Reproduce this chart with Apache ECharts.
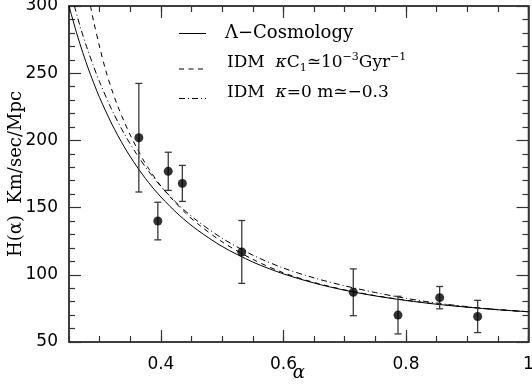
<!DOCTYPE html>
<html>
<head>
<meta charset="utf-8">
<script src="https://cdn.jsdelivr.net/npm/echarts@6/dist/echarts.min.js"></script>
<style>
  html, body { margin: 0; padding: 0; background: #fff; }
  #chart { width: 532px; height: 384px; }
</style>
</head>
<body>
<div id="chart"></div>
<script>
// measured H(alpha) points with errors
const pointAlpha = [0.364, 0.412, 0.435, 0.395, 0.532, 0.714, 0.787, 0.855, 0.917]
const pointH = [202, 177, 168, 140, 117, 87, 70, 83, 69]
const pointErr = [40.4, 14.2, 13.4, 14, 23.4, 17.4, 14, 8.3, 12]

// Lambda cosmology curve (solid)
const lcdmAlpha = [0.25, 0.26, 0.27, 0.28, 0.29, 0.30, 0.32, 0.34, 0.36, 0.38, 0.40, 0.43, 0.46, 0.50, 0.55, 0.60, 0.65, 0.70, 0.75, 0.80, 0.85, 0.90, 0.95, 1.00]
const lcdmH = [300, 283.7, 268.8, 255.3, 243.1, 231.8, 212.1, 195.3, 181.0, 168.6, 157.9, 144.3, 133.2, 121.1, 109.5, 100.7, 93.9, 88.5, 84.3, 80.9, 78.1, 75.9, 74.0, 72.5]

// IDM kappa*C1 ~ 1e-3 Gyr^-1 (dashed)
const idmKAlpha = [0.285, 0.29, 0.30, 0.31, 0.32, 0.33, 0.34, 0.35, 0.36, 0.37, 0.38, 0.40, 0.42, 0.44, 0.46, 0.50, 0.55, 0.60, 0.65, 0.70, 0.75, 0.80, 0.85, 0.90, 0.95, 1.00]
const idmKH = [300, 289, 269.5, 252, 237.5, 225, 214, 204, 195, 186.5, 179, 166, 155.5, 146, 138, 124.5, 111.5, 101.5, 94.3, 88.8, 84.5, 81.1, 78.3, 76.0, 74.1, 72.5]

// IDM kappa=0, m ~ -0.3 (dash-dot)
const idmMAlpha = [0.259, 0.26, 0.27, 0.28, 0.29, 0.30, 0.32, 0.34, 0.36, 0.38, 0.40, 0.43, 0.46, 0.50, 0.55, 0.60, 0.65, 0.70, 0.75, 0.80, 0.85, 0.90, 0.95, 1.00]
const idmMH = [300, 298, 282, 268, 255.3, 243.4, 222.7, 205.1, 190.1, 177.0, 165.8, 151.5, 139.9, 127.2, 114.6, 105.0, 97.7, 91.8, 86.8, 82.5, 79.0, 76.3, 74.1, 72.5]

const xMajor = [0.4, 0.6, 0.8, 1]
const legendNames = [
  '\u039B\u2212Cosmology',
  'IDM  {i|\u03BA}C{sub|1}\u224310{sup|\u22123}Gyr{sup|\u22121}',
  'IDM  {i|\u03BA}=0 m\u2243\u22120.3'
]

const frameColor = '#333'
const tickFont = 'DejaVu Sans'
const serif = 'DejaVu Serif'

let myChart = echarts.init(document.getElementById('chart'))

function pairs(xs, ys) {
  return xs.map((x, i) => [x, ys[i]])
}

function xAxisBase(pos) {
  return {
    type: 'value',
    position: pos,
    min: 0.25,
    max: 1,
    interval: 0.05,
    splitLine: { show: false },
    axisLine: { onZero: false, show: true, lineStyle: { color: frameColor, width: 1.5 } },
    axisTick: { show: true, inside: true, length: 6, lineStyle: { color: frameColor, width: 1.2 } },
    axisLabel: { show: false }
  }
}

function xAxisMajor(pos) {
  return {
    type: 'value',
    position: pos,
    min: 0.25,
    max: 1,
    interval: 0.05,
    splitLine: { show: false },
    axisLine: { show: false, onZero: false },
    axisTick: { show: true, inside: true, length: 12, customValues: xMajor, lineStyle: { color: frameColor, width: 1.2 } },
    axisLabel: { show: false }
  }
}

function yAxisBase(pos) {
  return {
    type: 'value',
    position: pos,
    min: 50,
    max: 300,
    interval: 50,
    splitLine: { show: false },
    axisLine: { onZero: false, show: true, lineStyle: { color: frameColor, width: 1.5 } },
    axisTick: { show: true, inside: true, length: 12, lineStyle: { color: frameColor, width: 1.2 } },
    minorTick: { show: true, splitNumber: 5, length: 6, lineStyle: { color: frameColor, width: 1.2 } },
    minorSplitLine: { show: false },
    axisLabel: { show: false }
  }
}

let xBottom = xAxisBase('bottom')
xBottom.axisLabel = {
  show: true,
  customValues: xMajor,
  color: '#000',
  fontFamily: tickFont,
  fontSize: 17,
  margin: 14,
  formatter: (v) => String(Math.round(v * 10) / 10)
}
xBottom.name = '\u03B1'
xBottom.nameLocation = 'middle'
xBottom.nameGap = 22
xBottom.nameMoveOverlap = false
xBottom.nameTextStyle = { color: '#000', fontFamily: serif, fontStyle: 'italic', fontSize: 18 }

let yLeft = yAxisBase('left')
yLeft.axisLabel = { show: true, color: '#000', fontFamily: tickFont, fontSize: 17, margin: 11 }
yLeft.name = 'H(\u03B1)  Km/sec/Mpc'
yLeft.nameLocation = 'middle'
yLeft.nameGap = 44
yLeft.nameMoveOverlap = false
yLeft.nameTextStyle = { color: '#000', fontFamily: serif, fontSize: 18 }

const legendRows = [
  { lineY: 33.5, textY: 33.5, textX: 225, size: 18, dash: null },
  { lineY: 69, textY: 63, textX: 227, size: 17, dash: [5, 4.5] },
  { lineY: 98.5, textY: 92.5, textX: 227, size: 17, dash: [6, 3, 1, 3] }
]
function richStyle(size) {
  return {
    i: { fontFamily: serif, fontSize: size, fontStyle: 'italic', fill: '#000', lineHeight: 22 },
    sub: { fontFamily: serif, fontSize: 11, fill: '#000', verticalAlign: 'bottom', lineHeight: 22 },
    sup: { fontFamily: serif, fontSize: 11, fill: '#000', verticalAlign: 'top', lineHeight: 22 }
  }
}
let graphics = []
legendRows.forEach((r, i) => {
  graphics.push({
    type: 'line',
    shape: { x1: 179, y1: r.lineY, x2: 206, y2: r.lineY },
    style: { stroke: '#000', lineWidth: 1, lineDash: r.dash }
  })
  graphics.push({
    type: 'text',
    x: r.textX,
    y: r.textY,
    style: {
      text: legendNames[i],
      fill: '#000',
      fontFamily: serif,
      fontSize: r.size,
      lineHeight: 22,
      verticalAlign: 'middle',
      align: 'left',
      rich: richStyle(r.size)
    }
  })
})

// empty series so the mirrored frame axes get drawn
let frameSeries = [[1, 1], [2, 0], [3, 1]].map(([xi, yi]) => ({
  type: 'line', xAxisIndex: xi, yAxisIndex: yi, data: [], silent: true
}))

myChart.setOption({
  animation: false,
  backgroundColor: '#fff',
  grid: {
    left: 69, right: 3.5, top: 6, bottom: 42,
    show: true, borderColor: frameColor, borderWidth: 1.5, backgroundColor: 'transparent',
    containLabel: false, outerBoundsMode: 'none'
  },
  xAxis: [xBottom, xAxisMajor('bottom'), xAxisBase('top'), xAxisMajor('top')],
  yAxis: [yLeft, yAxisBase('right')],
  graphic: graphics,
  series: [
    {
      name: 'lcdm',
      type: 'line',
      data: pairs(lcdmAlpha, lcdmH),
      symbol: 'none',
      smooth: 0.3,
      lineStyle: { color: '#000', width: 1 },
      z: 3
    },
    {
      name: 'idmK',
      type: 'line',
      data: pairs(idmKAlpha, idmKH),
      symbol: 'none',
      smooth: 0.3,
      lineStyle: { color: '#000', width: 1, type: [5, 4.5] },
      z: 3
    },
    {
      name: 'idmM',
      type: 'line',
      data: pairs(idmMAlpha, idmMH),
      symbol: 'none',
      smooth: 0.3,
      lineStyle: { color: '#000', width: 1, type: [6, 3, 1, 3] },
      z: 3
    },
    {
      name: 'errors',
      type: 'custom',
      data: pointAlpha.map((a, i) => [a, pointH[i] - pointErr[i], pointH[i] + pointErr[i]]),
      encode: { x: 0, y: [1, 2] },
      renderItem: function (params, api) {
        let x = api.value(0)
        let top = api.coord([x, api.value(2)])
        let bot = api.coord([x, api.value(1)])
        let w = 3.5
        let st = { stroke: '#3a3a3a', lineWidth: 1.3 }
        return {
          type: 'group',
          children: [
            { type: 'line', shape: { x1: top[0], y1: top[1], x2: bot[0], y2: bot[1] }, style: st },
            { type: 'line', shape: { x1: top[0] - w, y1: top[1], x2: top[0] + w, y2: top[1] }, style: st },
            { type: 'line', shape: { x1: bot[0] - w, y1: bot[1], x2: bot[0] + w, y2: bot[1] }, style: st }
          ]
        }
      },
      z: 4
    },
    {
      name: 'data',
      type: 'scatter',
      data: pairs(pointAlpha, pointH),
      symbol: 'circle',
      symbolSize: 9,
      itemStyle: { color: '#000' },
      z: 5
    }
  ].concat(frameSeries)
})
</script>
</body>
</html>
